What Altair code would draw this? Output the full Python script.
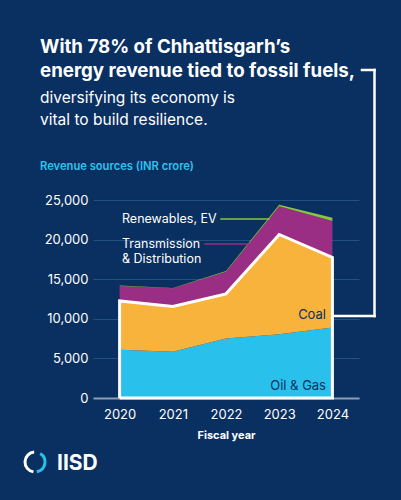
import altair as alt
import pandas as pd

years = [2020, 2021, 2022, 2023, 2024]
series = ["Oil & Gas", "Coal", "Transmission & Distribution", "Renewables, EV"]
oil_gas = [6100, 5850, 7500, 8050, 8900]
coal = [6150, 5700, 5650, 12600, 8850]
trans_dist = [1900, 2300, 2800, 3550, 4600]
renewables = [50, 50, 80, 200, 400]
y_ticks = [0, 5000, 10000, 15000, 20000, 25000]

colors = ["#29c1ec", "#f7b33c", "#9a2e84", "#8cc63f"]
NAVY = "#0a2f61"
FONT = "Inter"

rows = []
for s_i, (name, vals) in enumerate(zip(series, [oil_gas, coal, trans_dist, renewables])):
    for y, v in zip(years, vals):
        rows.append({"year": y, "series": name, "value": v, "ord": s_i})
df = pd.DataFrame(rows)

# outline of fossil-fuel share (oil & gas + coal)
fossil_top = [a + b for a, b in zip(oil_gas, coal)]
outline_pts = [(years[0], 0)] + list(zip(years, fossil_top)) + [(years[-1], 0), (years[0], 0)]
outline = pd.DataFrame({"year": [p[0] for p in outline_pts],
                        "value": [p[1] for p in outline_pts],
                        "i": list(range(len(outline_pts)))})

xscale = alt.Scale(domain=[2019.5, 2024.5], nice=False, zero=False)
yscale = alt.Scale(domain=[0, 25000], nice=False)

x_axis = alt.Axis(values=years, format="d", title="Fiscal year", grid=False,
                  ticks=False, domain=True, domainColor="#8b9cb8", domainWidth=2,
                  labelPadding=10, labelFontSize=13, labelColor="white",
                  labelOverlap=False,
                  titleFontSize=11, titleFontWeight="bold", titleColor="white",
                  titlePadding=8, labelFont=FONT, titleFont=FONT)
y_axis = alt.Axis(values=y_ticks, format=",d", title=None, domain=False, ticks=False,
                  grid=True, gridColor="#24507f", gridWidth=1, labelOverlap=False,
                  labelPadding=5, labelFontSize=13, labelColor="white", labelFont=FONT)

area = alt.Chart(df).mark_area(opacity=1).encode(
    x=alt.X("year:Q", scale=xscale, axis=x_axis),
    y=alt.Y("value:Q", stack="zero", scale=yscale, axis=y_axis),
    color=alt.Color("series:N", scale=alt.Scale(domain=series, range=colors), legend=None),
    order=alt.Order("ord:Q", sort="ascending"),
)

line = alt.Chart(outline).mark_line(color="white", strokeWidth=3, strokeJoin="miter").encode(
    x=alt.X("year:Q", scale=xscale, axis=x_axis),
    y=alt.Y("value:Q", scale=yscale, axis=y_axis),
    order="i:Q",
)

one = pd.DataFrame({"a": [0]})


def txt(t, x, y, size=13, color="white", weight="normal", align="left"):
    return alt.Chart(one).mark_text(text=t, fontSize=size, color=color, fontWeight=weight,
                                    align=align, baseline="alphabetic", font=FONT).encode(
        x=alt.value(x), y=alt.value(y))


def seg(x1, x2, y1, y2, color, w):
    return alt.Chart(one).mark_rule(color=color, strokeWidth=w, strokeCap="square").encode(
        x=alt.value(x1), x2=alt.value(x2), y=alt.value(y1), y2=alt.value(y2))


texts = [
    txt("With 78% of Chhattisgarh’s", -53, -147, size=18.7, weight="bold"),
    txt("energy revenue tied to fossil fuels,", -53, -123, size=18.7, weight="bold"),
    txt("diversifying its economy is", -53, -97, size=15.5),
    txt("vital to build resilience.", -53, -75, size=15.5),
    txt("Revenue sources (INR crore)", -53, -30, size=11.2, color="#2ec4f0", weight=600),
    txt("Renewables, EV", 29, 23, size=12.5),
    txt("Transmission", 29, 48, size=12.5),
    txt("& Distribution", 29, 63, size=12.5),
    txt("Coal", 233, 119, size=13, color=NAVY, align="right"),
    txt("Oil & Gas", 233, 190, size=13, color=NAVY, align="right"),
    txt("IISD", -36, 270, size=21, weight="bold"),
]

leaders = [
    seg(128, 176, 19, 19, colors[3], 1.5),
    seg(112, 156, 44, 44, colors[2], 1.5),
]

bracket = [
    seg(269, 281.5, -130, -130, "white", 2.5),
    seg(281.5, 281.5, -130, 116, "white", 2.5),
    seg(241, 281.5, 116, 116, "white", 2.5),
]

logo = [
    alt.Chart(one).mark_arc(radius=11.5, radius2=8.5, theta=3.3, theta2=6.2, color="white").encode(
        x=alt.value(-58), y=alt.value(262)),
    alt.Chart(one).mark_arc(radius=11.5, radius2=8.5, theta=0.55, theta2=2.95, color=colors[0]).encode(
        x=alt.value(-58), y=alt.value(262)),
]

chart = alt.layer(area, *leaders, line, *bracket, *texts, *logo).properties(
    width=266, height=198,
    autosize=alt.AutoSizeParams(type="none"),
    padding={"left": 93, "top": 200, "right": 42, "bottom": 102},
    background=NAVY,
).configure(font=FONT).configure_view(stroke=None, strokeWidth=0)

chart.save("out.html", embed_options={"renderer": "svg", "actions": False})
